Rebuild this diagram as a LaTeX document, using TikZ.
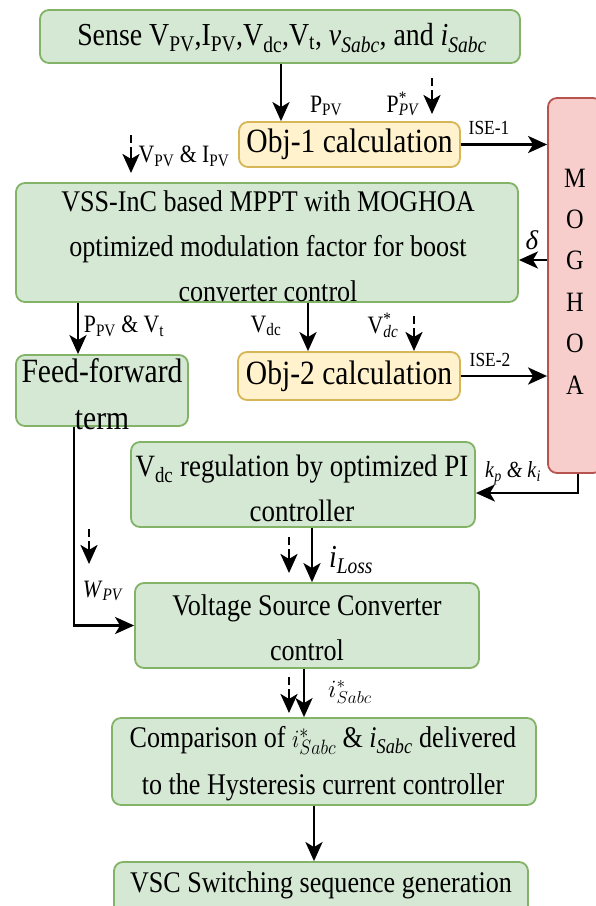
\documentclass[tikz,border=0pt]{standalone}
\usepackage{graphicx}
\usepackage{fontspec}
\setmainfont{Liberation Serif}
\usetikzlibrary{arrows.meta}
\definecolor{gfill}{HTML}{D5E8D4}
\definecolor{gdraw}{HTML}{82B366}
\definecolor{yfill}{HTML}{FFF2CC}
\definecolor{ydraw}{HTML}{D6B656}
\definecolor{rfill}{HTML}{F8CECC}
\definecolor{rdraw}{HTML}{B85450}
\newcommand{\sbs}[1]{\textsubscript{#1}}
\newcommand{\mystk}[3]{#1\rlap{\textsuperscript{#2}}\textsubscript{#3}}
\newcommand{\cx}[1]{\scalebox{0.87}[1]{#1}}
\begin{document}
\begin{tikzpicture}[x=1pt,y=-1pt,
  box/.style={rounded corners=9pt, line width=1.8pt, inner sep=0pt, align=center, anchor=center},
  gbox/.style={box, fill=gfill, draw=gdraw},
  ybox/.style={box, fill=yfill, draw=ydraw},
  rbox/.style={box, fill=rfill, draw=rdraw},
  txt/.style={inner sep=0pt, align=center},
  main/.style={font=\fontsize{30}{45}\selectfont},
  big/.style={font=\fontsize{34}{40}\selectfont},
  lbl/.style={font=\fontsize{25}{28}\selectfont, inner sep=0pt},
  arr/.style={line width=2.8pt, -{Stealth[length=19pt,width=17pt,inset=5pt]}},
  darr/.style={arr, dash pattern=on 8pt off 4pt on 60pt},
]
\useasboundingbox[fill=white] (0,0) rectangle (596,906);
% boxes
\node[gbox, minimum width=480pt, minimum height=53pt] (sense) at (280,36.5) {};
\node[txt, font=\fontsize{32}{40}\selectfont] (senset) at (282,38)
  {\cx{Sense V\sbs{PV},I\sbs{PV},V\sbs{dc},V\sbs{t}, \textit{v}\sbs{\textit{Sabc}}, and \textit{i}\sbs{\textit{Sabc}}}};
\node[ybox, big, minimum width=221pt, minimum height=45pt] (obj1) at (349.5,144.5) {\cx{Obj-1 calculation}};
\node[rbox, minimum width=54pt, minimum height=375pt] (mog) at (575,285.5) {};
\node[txt, font=\fontsize{28}{41.4}\selectfont] (moglbl) at (575,281.5) {\cx{M}\\\cx{O}\\\cx{G}\\\cx{H}\\\cx{O}\\\cx{A}};
\node[gbox, minimum width=502pt, minimum height=119pt] (vss) at (267,242.5) {};
\node[txt, main] (vsst) at (268,246)
  {\cx{VSS-InC based MPPT with MOGHOA}\\\cx{optimized modulation factor for boost}\\\cx{converter control}};
\node[gbox, minimum width=172pt, minimum height=71pt] (ff) at (102,390.5) {};
\node[txt, font=\fontsize{34}{47}\selectfont] (fft) at (102,394) {\cx{Feed-forward}\\\cx{term}};
\node[ybox, big, minimum width=222pt, minimum height=48pt] (obj2) at (349,376) {\cx{Obj-2 calculation}};
\node[gbox, minimum width=344pt, minimum height=85pt] (vdc) at (303,484.5) {};
\node[txt, font=\fontsize{31}{45}\selectfont] (vdct) at (302,488)
  {\cx{V\sbs{dc} regulation by optimized PI}\\\cx{controller}};
\node[gbox, minimum width=344pt, minimum height=85pt] (vsc) at (307,625.5) {};
\node[txt, main] (vsct) at (307,628) {\cx{Voltage Source Converter}\\\cx{control}};
\node[gbox, minimum width=424pt, minimum height=87pt] (cmp) at (324,761.5) {};
\node[txt, main, font=\fontsize{30}{47}\selectfont] (cmpt) at (323,764)
  {\cx{Comparison of $i^*_{Sabc}$ \& \textit{i}\sbs{\textit{Sabc}} delivered}\\\cx{to the Hysteresis current controller}};
\node[gbox, minimum width=414pt, minimum height=68pt] (sw) at (321,896) {};
\node[txt, main] (swt) at (321,885) {\cx{VSC Switching sequence generation}};
% helper coordinates
\coordinate (x281) at (281,0);
\coordinate (x78) at (78,0);
\coordinate (x308) at (308,0);
\coordinate (x74) at (74,0);
\coordinate (x578) at (578,0);
\coordinate (x312) at (312,0);
\coordinate (x304) at (304,0);
\coordinate (x314) at (314,0);
\coordinate (yd) at (0,260);
\coordinate (yk) at (0,493);
% connectors
\draw[arr] (sense.south -| x281) -- (obj1.north -| x281);
\draw[arr] (obj1.east) -- (obj1.east -| mog.west);
\draw[arr] (mog.west |- yd) -- (vss.east |- yd);
\draw[arr] (vss.south -| x78) -- (ff.north -| x78);
\draw[arr] (vss.south -| x308) -- (obj2.north -| x308);
\draw[arr] (obj2.east) -- (obj2.east -| mog.west);
\draw[arr] (ff.south -| x74) |- (vsc.west);
\draw[arr] (mog.south -| x578) |- (vdc.east |- yk);
\draw[arr] (vdc.south -| x312) -- (vsc.north -| x312);
\draw[arr] (vsc.south -| x304) -- (cmp.north -| x304);
\draw[arr] (cmp.south -| x314) -- (sw.north -| x314);
% dashed small arrows
\coordinate (d1a) at (432,78);  \coordinate (d1b) at (432,114);
\coordinate (d2a) at (131,135); \coordinate (d2b) at (131,173);
\coordinate (d3a) at (414,316); \coordinate (d3b) at (414,351);
\coordinate (d4a) at (89,529);  \coordinate (d4b) at (89,564);
\coordinate (d5a) at (289,537); \coordinate (d5b) at (289,573);
\coordinate (d6a) at (289,677); \coordinate (d6b) at (289,713);
\draw[darr] (d1a) -- (d1b);
\draw[darr] (d2a) -- (d2b);
\draw[darr] (d3a) -- (d3b);
\draw[darr] (d4a) -- (d4b);
\draw[darr] (d5a) -- (d5b);
\draw[darr] (d6a) -- (d6b);
% labels
\node[lbl] (lppv) at (326,106) {\cx{P\sbs{PV}}};
\node[lbl] (lppvs) at (403,104) {\cx{\mystk{P}{*}{\textit{PV}}}};
\node[lbl, font=\fontsize{20}{22}\selectfont] (lise1) at (489,128) {\cx{ISE-1}};
\node[lbl] (lvi) at (184,156) {\cx{V\sbs{PV} \& I\sbs{PV}}};
\node[lbl, font=\fontsize{27}{29}\selectfont] (ldelta) at (532,240) {\textit{δ}};
\node[lbl] (lpv) at (124,326) {\cx{P\sbs{PV} \& V\sbs{t}}};
\node[lbl] (lvdc) at (266,326) {\cx{V\sbs{dc}}};
\node[lbl] (lvdcs) at (383,325) {\cx{\mystk{V}{*}{\textit{dc}}}};
\node[lbl, font=\fontsize{20}{22}\selectfont] (lise2) at (490,360) {\cx{ISE-2}};
\node[lbl, font=\fontsize{23}{26}\selectfont] (lk) at (513,473) {\cx{\textit{k}\sbs{\textit{p}} \textit{\&} \textit{k}\sbs{\textit{i}}}};
\node[lbl, font=\fontsize{32}{34}\selectfont] (lloss) at (351,560) {\cx{\textit{i}\sbs{\textit{Loss}}}};
\node[lbl, font=\fontsize{25}{27}\selectfont] (lw) at (103,591) {\cx{\textit{W}\sbs{\textit{PV}}}};
\node[lbl, font=\fontsize{27}{29}\selectfont] (lis) at (350,692) {$i^*_{Sabc}$};
\end{tikzpicture}
\end{document}
